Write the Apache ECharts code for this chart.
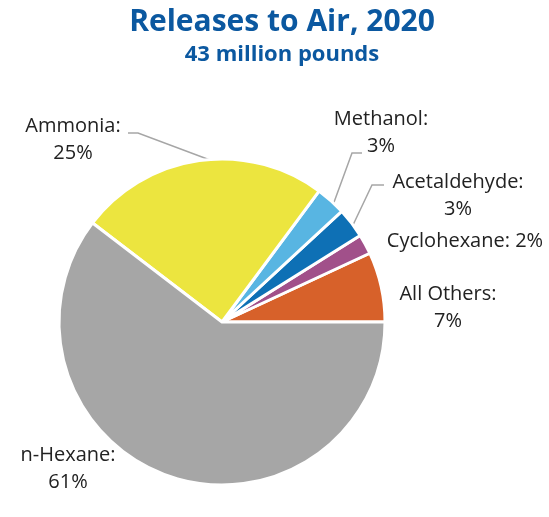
<!DOCTYPE html>
<html><head><meta charset="utf-8">
<script src="https://cdn.jsdelivr.net/npm/echarts@6/dist/echarts.min.js"></script>
<style>html,body{margin:0;padding:0;background:#fff}#c{width:549px;height:517px}</style>
</head><body><div id="c"></div>
<script>
const categories = ['All Others', 'Cyclohexane', 'Acetaldehyde', 'Methanol', 'Ammonia', 'n-Hexane'];
const percents = [7, 2, 3, 3, 25, 61];
const titleText = 'Releases to Air, 2020';
const subtitleText = '43 million pounds';

const colors = ['#d7612a', '#a1508a', '#0e70b5', '#58b5e2', '#ece53f', '#a6a6a6'];
// label anchor positions (styling) and leader lines
const labelPos = {
  'All Others': {x: 448, y: 308, line: null, single: false},
  'Cyclohexane': {x: 465, y: 241, line: null, single: true},
  'Acetaldehyde': {x: 458, y: 196, line: [[353, 225], [372, 185], [384, 185]]},
  'Methanol': {x: 381, y: 133, line: [[333, 205], [352, 153], [362, 153]]},
  'Ammonia': {x: 73, y: 140, line: [[210, 160], [138, 133], [128, 133]]},
  'n-Hexane': {x: 68, y: 469, line: null}
};

const chart = echarts.init(document.getElementById('c'), null, {renderer: 'canvas'});
const data = categories.map((n, i) => ({
  name: n, value: percents[i],
  itemStyle: {color: colors[i]},
  labelLine: {show: !!labelPos[n].line}
}));
chart.setOption({
  animation: false,
  title: [{
    text: titleText, left: 277, top: 2, textAlign: 'center',
    textStyle: {fontFamily: 'Open Sans', fontWeight: 'bold', fontSize: 30, color: '#0b58a0'}
  }, {
    text: subtitleText, left: 277, top: 39, textAlign: 'center',
    textStyle: {fontFamily: 'Open Sans', fontWeight: 'bold', fontSize: 22, color: '#0b58a0'}
  }],
  series: [{
    type: 'pie',
    center: [222, 322],
    radius: [0, 163],
    startAngle: 0,
    clockwise: false,
    itemStyle: {borderColor: '#fff', borderWidth: 3},
    label: {
      show: true,
      position: 'outside',
      overflow: 'none',
      fontFamily: 'Open Sans', fontSize: 20, color: '#222', lineHeight: 27,
      align: 'center',
      formatter: p => labelPos[p.name].single ? p.name + ': ' + p.value + '%' : p.name + ':\n' + p.value + '%'
    },
    labelLine: {lineStyle: {color: '#a6a6a6', width: 1.5}, smooth: false},
    labelLayout: function (params) {
      const n = categories[params.dataIndex];
      const p = labelPos[n];
      const r = {x: p.x, y: p.y, align: 'center', verticalAlign: 'middle'};
      if (p.line) r.labelLinePoints = p.line;
      return r;
    },
    data: data
  }]
});
</script></body></html>
